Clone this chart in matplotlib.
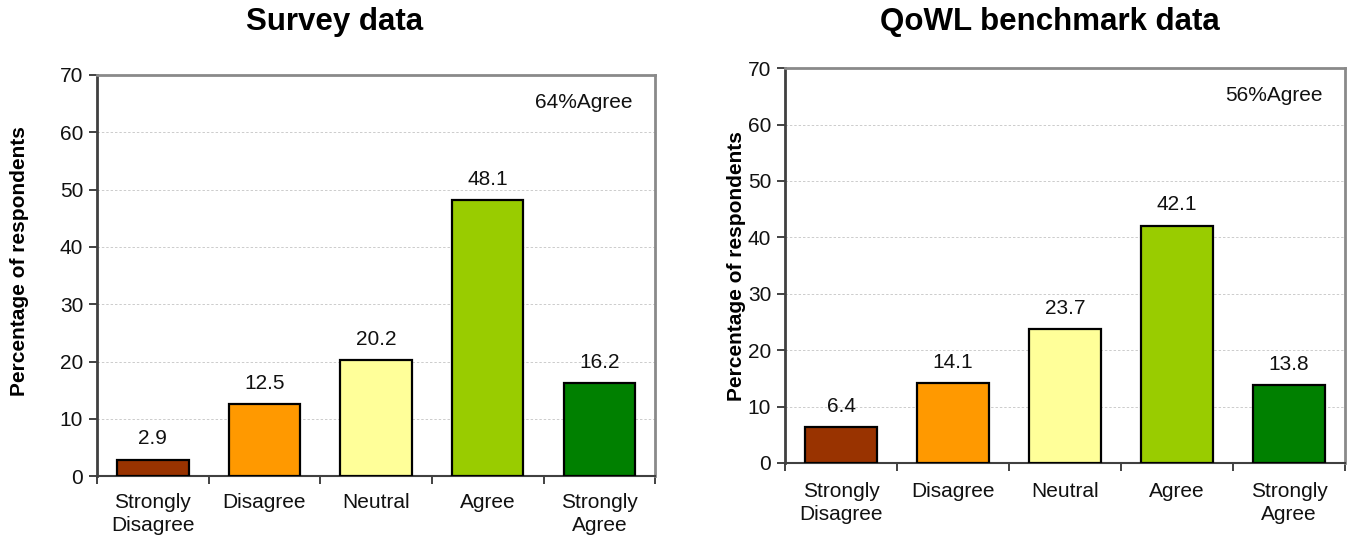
import matplotlib
matplotlib.use("Agg")
import matplotlib.pyplot as plt
import numpy as np

plt.rcParams['font.family'] = ['Liberation Sans', 'DejaVu Sans']

categories = ["Strongly\nDisagree", "Disagree", "Neutral", "Agree", "Strongly\nAgree"]
bar_colors = ["#993300", "#FF9900", "#FFFF99", "#99CC00", "#008000"]

survey_values = [2.9, 12.5, 20.2, 48.1, 16.2]
qowl_values = [6.4, 14.1, 23.7, 42.1, 13.8]

survey_note = "64%Agree"
qowl_note = "56%Agree"


def draw_panel(ax, values, note, label_pad):
    x = np.arange(len(values))
    ax.bar(x, values, width=0.64, color=bar_colors, edgecolor="black",
           linewidth=1.6, zorder=3)
    for xi, v in zip(x, values):
        ax.annotate(f"{v:.1f}", (xi, v), xytext=(0, 11), textcoords="offset points",
                    ha="center", va="baseline", fontsize=15, color="#111111")

    ax.set_xlim(-0.5, len(values) - 0.5)
    ax.set_ylim(0, 70)
    ax.set_yticks(range(0, 71, 10))
    ax.set_xticks(x)
    ax.set_xticklabels(categories, fontsize=15, color="#111111", linespacing=1.25)
    ax.set_xticks(np.arange(-0.5, len(values)), minor=True)
    ax.tick_params(axis="x", which="major", length=0, pad=label_pad)
    ax.tick_params(axis="x", which="minor", length=6, width=1.2, color="#222222")
    ax.tick_params(axis="y", length=6, width=1.2, color="#222222",
                   labelsize=15, labelcolor="#111111", pad=4)

    for yv in range(10, 70, 10):
        ax.axhline(yv, color="#cccccc", linestyle=(0, (2.5, 2)), linewidth=0.7, zorder=1)

    ax.spines["left"].set_color("#404040")
    ax.spines["left"].set_linewidth(2.0)
    ax.spines["bottom"].set_color("#404040")
    ax.spines["bottom"].set_linewidth(1.5)
    ax.spines["top"].set_color("#8a8a8a")
    ax.spines["top"].set_linewidth(2.0)
    ax.spines["right"].set_color("#8a8a8a")
    ax.spines["right"].set_linewidth(2.0)

    ax.set_ylabel("Percentage of respondents", fontsize=15, fontweight="bold")
    ax.text(0.96, 0.93, note, transform=ax.transAxes, ha="right", va="center",
            fontsize=15, color="#111111")


fig = plt.figure(figsize=(13.48, 5.35), dpi=100)

ax1 = fig.add_axes([0.072, 0.110, 0.414, 0.750])
draw_panel(ax1, survey_values, survey_note, 12)
ax1.yaxis.labelpad = 22
ax1.yaxis.label.set_y(0.535)

ax2 = fig.add_axes([0.5824, 0.1346, 0.4154, 0.738])
draw_panel(ax2, qowl_values, qowl_note, 14)
ax2.yaxis.labelpad = 1

# titles placed in figure coordinates above each panel
fig.text(335 / 1348, 1 - 22 / 535, "Survey data", ha="center", va="center",
         fontsize=22.5, fontweight="bold")
fig.text(1050 / 1348, 1 - 22 / 535, "QoWL benchmark data", ha="center", va="center",
         fontsize=22.5, fontweight="bold")

fig.savefig("out.png", dpi=100)
